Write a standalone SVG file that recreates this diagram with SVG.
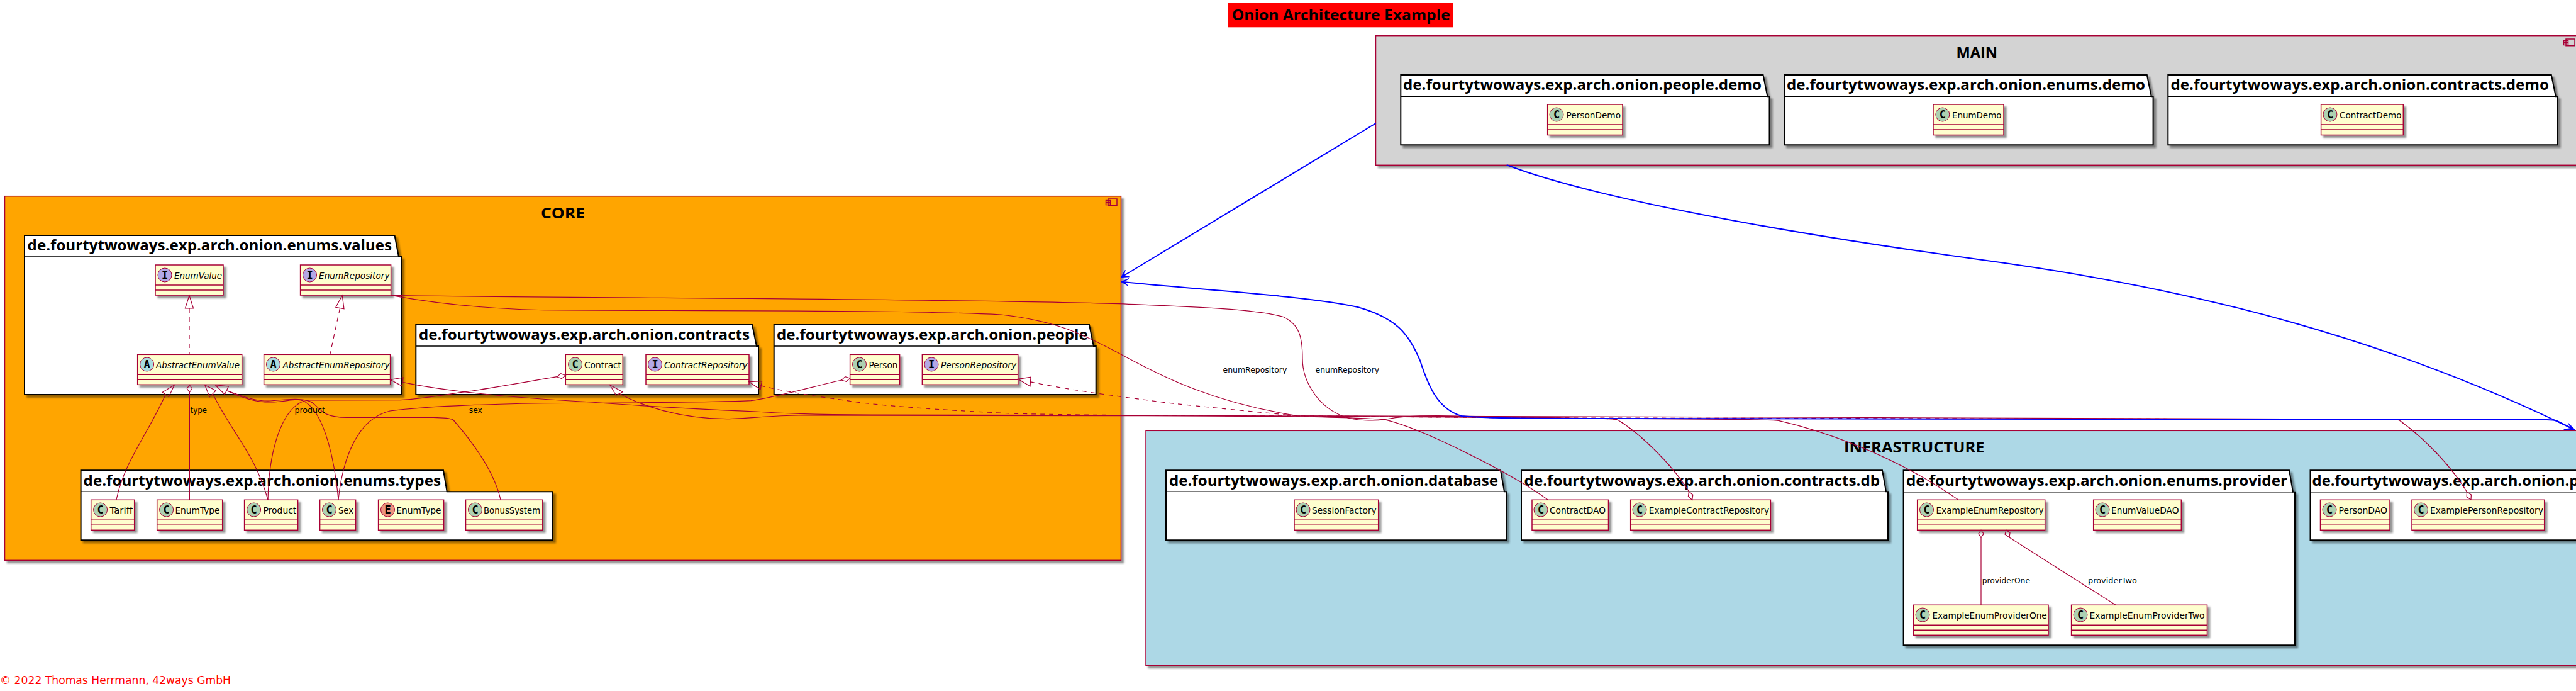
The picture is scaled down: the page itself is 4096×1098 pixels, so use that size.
<svg xmlns="http://www.w3.org/2000/svg" width="4096" height="1098" viewBox="0 0 4096 1098">
<style>
text{font-family:"DejaVu Sans","Open Sans",sans-serif;fill:#000}
.t{font-family:"Open Sans","DejaVu Sans",sans-serif;font-size:24px;font-weight:700}
.n{font-size:14px}
.i{font-size:14px;font-style:italic}
.l{font-size:13px}
.g{font-family:"DejaVu Sans Mono","Liberation Mono",monospace;font-size:17px;font-weight:700;text-anchor:middle}
.box{fill:#FEFECE;stroke:#A80036;stroke-width:1.5;filter:url(#sh)}
.div{fill:none;stroke:#A80036;stroke-width:1.5}
.pk{fill:#fff;stroke:#000;stroke-width:2;filter:url(#sh)}
.pl{fill:none;stroke:#000;stroke-width:1.5}
.cmp{stroke:#A80036;stroke-width:1.5;filter:url(#sh)}
.ic{fill:none;stroke:#A80036;stroke-width:1.5}
.ci{stroke:#A80036;stroke-width:1}
.C{fill:#ADD1B2}.A{fill:#A9DCDF}.I{fill:#B4A7E5}.E{fill:#EB937F}
.r{fill:none;stroke:#A80036;stroke-width:1.2}
.d{fill:none;stroke:#A80036;stroke-width:1.2;stroke-dasharray:7,7}
.h{fill:none;stroke:#A80036;stroke-width:1.2}
.b{fill:none;stroke:#0000FF;stroke-width:2}
.ba{fill:#0000FF;stroke:#0000FF;stroke-width:1}
</style>
<defs>
<filter id="sh" x="-5%" y="-10%" width="115%" height="130%"><feDropShadow dx="4" dy="4" stdDeviation="1.8" flood-color="#000" flood-opacity=".42"/></filter>
</defs>

<g id="title"><rect x="1952.5" y="5" width="357.5" height="38.3" fill="#FF0000"/><text class="t" x="1958.7" y="32.3" textLength="347" lengthAdjust="spacingAndGlyphs">Onion Architecture Example</text></g>
<g id="footer"><text x="0" y="1087" font-size="18" style="fill:#FF0000" textLength="367" lengthAdjust="spacingAndGlyphs">© 2022 Thomas Herrmann, 42ways GmbH</text></g>

<g id="CORE">
<rect class="cmp" x="7.5" y="311.7" width="1775" height="578.6" fill="#FFA500"/>
<path class="ic" d="M1762,316h14v10.7h-14zM1758.5,318.5h7v3h-7zM1758.5,322.5h7v3h-7z"/>
<text class="t" x="860" y="347" textLength="70" lengthAdjust="spacingAndGlyphs">CORE</text>
</g>
<g id="MAIN">
<rect class="cmp" x="2187.5" y="56.7" width="1925" height="205.6" fill="#D3D3D3"/>
<path class="ic" d="M4080,62h14v10.7h-14zM4076.5,64.5h7v3h-7zM4076.5,68.5h7v3h-7z"/>
<text class="t" x="3110.4" y="91.7" textLength="65.6" lengthAdjust="spacingAndGlyphs">MAIN</text>
</g>
<g id="INFRASTRUCTURE">
<rect class="cmp" x="1822" y="684.3" width="2320" height="373" fill="#ADD8E6"/>
<text class="t" x="2932" y="719" textLength="223.5" lengthAdjust="spacingAndGlyphs">INFRASTRUCTURE</text>
</g>

<g id="pkg-enums-values">
<path class="pk" d="M39,374H627.5L634,408H638V627H39Z"/><path class="pl" d="M39,408H634"/>
<text class="t" x="43.6" y="398" textLength="579.4" lengthAdjust="spacingAndGlyphs">de.fourtytwoways.exp.arch.onion.enums.values</text>
</g>
<g id="pkg-contracts">
<path class="pk" d="M661.3,516H1196L1203,550H1206V627H661.3Z"/><path class="pl" d="M661.3,550H1203"/>
<text class="t" x="666" y="540" textLength="526" lengthAdjust="spacingAndGlyphs">de.fourtytwoways.exp.arch.onion.contracts</text>
</g>
<g id="pkg-people">
<path class="pk" d="M1230.7,516H1732L1738.9,550H1742.7V627H1230.7Z"/><path class="pl" d="M1230.7,550H1738.9"/>
<text class="t" x="1235" y="540" textLength="494.7" lengthAdjust="spacingAndGlyphs">de.fourtytwoways.exp.arch.onion.people</text>
</g>
<g id="pkg-enums-types">
<path class="pk" d="M128.6,747.3H705L710.7,781.3H879V858.3H128.6Z"/><path class="pl" d="M128.6,781.3H710.7"/>
<text class="t" x="132.6" y="771.5" textLength="568.4" lengthAdjust="spacingAndGlyphs">de.fourtytwoways.exp.arch.onion.enums.types</text>
</g>
<g id="pkg-people-demo">
<path class="pk" d="M2227.3,119H2803.5L2810.4,153.3H2813.5V230.3H2227.3Z"/><path class="pl" d="M2227.3,153.3H2810.4"/>
<text class="t" x="2231" y="143.3" textLength="570" lengthAdjust="spacingAndGlyphs">de.fourtytwoways.exp.arch.onion.people.demo</text>
</g>
<g id="pkg-enums-demo">
<path class="pk" d="M2837,119H3413.8L3420.8,153.3H3423.6V230.3H2837Z"/><path class="pl" d="M2837,153.3H3420.8"/>
<text class="t" x="2841" y="143.3" textLength="570" lengthAdjust="spacingAndGlyphs">de.fourtytwoways.exp.arch.onion.enums.demo</text>
</g>
<g id="pkg-contracts-demo">
<path class="pk" d="M3447.3,119H4056.8L4063.8,153.3H4066.6V230.3H3447.3Z"/><path class="pl" d="M3447.3,153.3H4063.8"/>
<text class="t" x="3451.5" y="143.3" textLength="601.5" lengthAdjust="spacingAndGlyphs">de.fourtytwoways.exp.arch.onion.contracts.demo</text>
</g>
<g id="pkg-database">
<path class="pk" d="M1854,747.3H2386L2392,781.3H2395V858.3H1854Z"/><path class="pl" d="M1854,781.3H2392"/>
<text class="t" x="1859" y="771.5" textLength="523" lengthAdjust="spacingAndGlyphs">de.fourtytwoways.exp.arch.onion.database</text>
</g>
<g id="pkg-contracts-db">
<path class="pk" d="M2419,747.3H2993L2999,781.3H3002V858.3H2419Z"/><path class="pl" d="M2419,781.3H2999"/>
<text class="t" x="2423.6" y="771.5" textLength="565.4" lengthAdjust="spacingAndGlyphs">de.fourtytwoways.exp.arch.onion.contracts.db</text>
</g>
<g id="pkg-enums-provider">
<path class="pk" d="M3026.6,747.3H3640L3646,781.7H3649V1025.3H3026.6Z"/><path class="pl" d="M3026.6,781.7H3646"/>
<text class="t" x="3031" y="771.5" textLength="606" lengthAdjust="spacingAndGlyphs">de.fourtytwoways.exp.arch.onion.enums.provider</text>
</g>
<g id="pkg-people-db">
<path class="pk" d="M3673.5,747.3H4190V858.3H3673.5Z"/><path class="pl" d="M3673.5,781.7H4190"/>
<text class="t" x="3676.5" y="771.5" textLength="424" lengthAdjust="spacingAndGlyphs">de.fourtytwoways.exp.arch.onion.p</text>
</g>

<g id="EnumValue"><rect class="box" x="247" y="421" width="108" height="48"/><path class="div" d="M247,453H355M247,461H355"/><circle class="ci I" cx="262" cy="437" r="11"/><text class="g" x="262" y="443">I</text><text class="i" x="277" y="443" textLength="76" lengthAdjust="spacingAndGlyphs">EnumValue</text></g>
<g id="EnumRepository"><rect class="box" x="477.6" y="421" width="144" height="48"/><path class="div" d="M477.6,453H621.6M477.6,461H621.6"/><circle class="ci I" cx="492.5" cy="437" r="11"/><text class="g" x="492.5" y="443">I</text><text class="i" x="507" y="443" textLength="112.5" lengthAdjust="spacingAndGlyphs">EnumRepository</text></g>
<g id="AbstractEnumValue"><rect class="box" x="218.7" y="563.3" width="166" height="48"/><path class="div" d="M218.7,595.3H384.7M218.7,603.3H384.7"/><circle class="ci A" cx="233.6" cy="579" r="11"/><text class="g" x="233.6" y="585">A</text><text class="i" x="248" y="585" textLength="133" lengthAdjust="spacingAndGlyphs">AbstractEnumValue</text></g>
<g id="AbstractEnumRepository"><rect class="box" x="419.6" y="563.3" width="201" height="48"/><path class="div" d="M419.6,595.3H620.6M419.6,603.3H620.6"/><circle class="ci A" cx="434.5" cy="579" r="11"/><text class="g" x="434.5" y="585">A</text><text class="i" x="449.5" y="585" textLength="170" lengthAdjust="spacingAndGlyphs">AbstractEnumRepository</text></g>
<g id="Contract"><rect class="box" x="899.3" y="563.3" width="91" height="48"/><path class="div" d="M899.3,595.3H990.3M899.3,603.3H990.3"/><circle class="ci C" cx="914.6" cy="579" r="11"/><text class="g" x="914.6" y="585">C</text><text class="n" x="929" y="585" textLength="59" lengthAdjust="spacingAndGlyphs">Contract</text></g>
<g id="ContractRepository"><rect class="box" x="1027" y="563.3" width="164" height="48"/><path class="div" d="M1027,595.3H1191M1027,603.3H1191"/><circle class="ci I" cx="1041.5" cy="579" r="11"/><text class="g" x="1041.5" y="585">I</text><text class="i" x="1056" y="585" textLength="132.6" lengthAdjust="spacingAndGlyphs">ContractRepository</text></g>
<g id="Person"><rect class="box" x="1351.6" y="563.3" width="79" height="48"/><path class="div" d="M1351.6,595.3H1430.6M1351.6,603.3H1430.6"/><circle class="ci C" cx="1366.5" cy="579" r="11"/><text class="g" x="1366.5" y="585">C</text><text class="n" x="1381.5" y="585" textLength="46" lengthAdjust="spacingAndGlyphs">Person</text></g>
<g id="PersonRepository"><rect class="box" x="1466.4" y="563.3" width="152.3" height="48"/><path class="div" d="M1466.4,595.3H1618.7M1466.4,603.3H1618.7"/><circle class="ci I" cx="1481" cy="579" r="11"/><text class="g" x="1481" y="585">I</text><text class="i" x="1496" y="585" textLength="120" lengthAdjust="spacingAndGlyphs">PersonRepository</text></g>

<g id="Tariff"><rect class="box" x="144.7" y="794.3" width="69" height="48"/><path class="div" d="M144.7,826.3H213.7M144.7,834.3H213.7"/><circle class="ci C" cx="159.6" cy="810" r="11"/><text class="g" x="159.6" y="816">C</text><text class="n" x="174.5" y="816" textLength="36.5" lengthAdjust="spacingAndGlyphs">Tariff</text></g>
<g id="EnumType-class"><rect class="box" x="249.7" y="794.3" width="104" height="48"/><path class="div" d="M249.7,826.3H353.7M249.7,834.3H353.7"/><circle class="ci C" cx="264.6" cy="810" r="11"/><text class="g" x="264.6" y="816">C</text><text class="n" x="278.4" y="816" textLength="71.2" lengthAdjust="spacingAndGlyphs">EnumType</text></g>
<g id="Product"><rect class="box" x="388.6" y="794.3" width="85" height="48"/><path class="div" d="M388.6,826.3H473.6M388.6,834.3H473.6"/><circle class="ci C" cx="403.6" cy="810" r="11"/><text class="g" x="403.6" y="816">C</text><text class="n" x="418.5" y="816" textLength="52.8" lengthAdjust="spacingAndGlyphs">Product</text></g>
<g id="Sex"><rect class="box" x="508.6" y="794.3" width="57" height="48"/><path class="div" d="M508.6,826.3H565.6M508.6,834.3H565.6"/><circle class="ci C" cx="523.5" cy="810" r="11"/><text class="g" x="523.5" y="816">C</text><text class="n" x="538" y="816" textLength="24" lengthAdjust="spacingAndGlyphs">Sex</text></g>
<g id="EnumType-enum"><rect class="box" x="601.6" y="794.3" width="104" height="48"/><path class="div" d="M601.6,826.3H705.6M601.6,834.3H705.6"/><circle class="ci E" cx="616.5" cy="810" r="11"/><text class="g" x="616.5" y="816">E</text><text class="n" x="630.3" y="816" textLength="71.2" lengthAdjust="spacingAndGlyphs">EnumType</text></g>
<g id="BonusSystem"><rect class="box" x="740.5" y="794.3" width="122.3" height="48"/><path class="div" d="M740.5,826.3H862.8M740.5,834.3H862.8"/><circle class="ci C" cx="755.5" cy="810" r="11"/><text class="g" x="755.5" y="816">C</text><text class="n" x="769" y="816" textLength="90" lengthAdjust="spacingAndGlyphs">BonusSystem</text></g>

<g id="PersonDemo"><rect class="box" x="2460.7" y="166" width="119.3" height="48.5"/><path class="div" d="M2460.7,198H2580M2460.7,206H2580"/><circle class="ci C" cx="2475" cy="182" r="11"/><text class="g" x="2475" y="188">C</text><text class="n" x="2490.5" y="188" textLength="86.5" lengthAdjust="spacingAndGlyphs">PersonDemo</text></g>
<g id="EnumDemo"><rect class="box" x="3074" y="166" width="112" height="48.5"/><path class="div" d="M3074,198H3186M3074,206H3186"/><circle class="ci C" cx="3088.8" cy="182" r="11"/><text class="g" x="3088.8" y="188">C</text><text class="n" x="3104" y="188" textLength="78.4" lengthAdjust="spacingAndGlyphs">EnumDemo</text></g>
<g id="ContractDemo"><rect class="box" x="3690.6" y="166" width="130.7" height="48.5"/><path class="div" d="M3690.6,198H3821.3M3690.6,206H3821.3"/><circle class="ci C" cx="3705" cy="182" r="11"/><text class="g" x="3705" y="188">C</text><text class="n" x="3720" y="188" textLength="98.5" lengthAdjust="spacingAndGlyphs">ContractDemo</text></g>

<g id="SessionFactory"><rect class="box" x="2058" y="794.3" width="133.7" height="48"/><path class="div" d="M2058,826.3H2191.7M2058,834.3H2191.7"/><circle class="ci C" cx="2072" cy="810" r="11"/><text class="g" x="2072" y="816">C</text><text class="n" x="2086" y="816" textLength="102.7" lengthAdjust="spacingAndGlyphs">SessionFactory</text></g>
<g id="ContractDAO"><rect class="box" x="2436" y="794.3" width="121.5" height="48"/><path class="div" d="M2436,826.3H2557.5M2436,834.3H2557.5"/><circle class="ci C" cx="2450" cy="810" r="11"/><text class="g" x="2450" y="816">C</text><text class="n" x="2464" y="816" textLength="89" lengthAdjust="spacingAndGlyphs">ContractDAO</text></g>
<g id="ExampleContractRepository"><rect class="box" x="2592.7" y="794.3" width="222.7" height="48"/><path class="div" d="M2592.7,826.3H2815.4M2592.7,834.3H2815.4"/><circle class="ci C" cx="2607" cy="810" r="11"/><text class="g" x="2607" y="816">C</text><text class="n" x="2621.8" y="816" textLength="191.2" lengthAdjust="spacingAndGlyphs">ExampleContractRepository</text></g>
<g id="ExampleEnumRepository"><rect class="box" x="3048.7" y="794.3" width="203" height="48"/><path class="div" d="M3048.7,826.3H3251.7M3048.7,834.3H3251.7"/><circle class="ci C" cx="3063.5" cy="810" r="11"/><text class="g" x="3063.5" y="816">C</text><text class="n" x="3078.5" y="816" textLength="171" lengthAdjust="spacingAndGlyphs">ExampleEnumRepository</text></g>
<g id="EnumValueDAO"><rect class="box" x="3328.7" y="794.3" width="139.6" height="48"/><path class="div" d="M3328.7,826.3H3468.3M3328.7,834.3H3468.3"/><circle class="ci C" cx="3343" cy="810" r="11"/><text class="g" x="3343" y="816">C</text><text class="n" x="3357" y="816" textLength="107.5" lengthAdjust="spacingAndGlyphs">EnumValueDAO</text></g>
<g id="ExampleEnumProviderOne"><rect class="box" x="3042.6" y="961.3" width="214.4" height="48"/><path class="div" d="M3042.6,993.3H3257M3042.6,1001.3H3257"/><circle class="ci C" cx="3057" cy="977" r="11"/><text class="g" x="3057" y="983">C</text><text class="n" x="3072.4" y="983" textLength="182.3" lengthAdjust="spacingAndGlyphs">ExampleEnumProviderOne</text></g>
<g id="ExampleEnumProviderTwo"><rect class="box" x="3293.6" y="961.3" width="215.9" height="48"/><path class="div" d="M3293.6,993.3H3509.5M3293.6,1001.3H3509.5"/><circle class="ci C" cx="3308" cy="977" r="11"/><text class="g" x="3308" y="983">C</text><text class="n" x="3322.6" y="983" textLength="183" lengthAdjust="spacingAndGlyphs">ExampleEnumProviderTwo</text></g>
<g id="PersonDAO"><rect class="box" x="3689.5" y="794.3" width="110.5" height="48"/><path class="div" d="M3689.5,826.3H3800M3689.5,834.3H3800"/><circle class="ci C" cx="3704" cy="810" r="11"/><text class="g" x="3704" y="816">C</text><text class="n" x="3718.5" y="816" textLength="77.5" lengthAdjust="spacingAndGlyphs">PersonDAO</text></g>
<g id="ExamplePersonRepository"><rect class="box" x="3835" y="794.3" width="210.7" height="48"/><path class="div" d="M3835,826.3H4045.7M3835,834.3H4045.7"/><circle class="ci C" cx="3849.5" cy="810" r="11"/><text class="g" x="3849.5" y="816">C</text><text class="n" x="3864" y="816" textLength="180" lengthAdjust="spacingAndGlyphs">ExamplePersonRepository</text></g>

<g id="connectors">
<path class="d" d="M301,490V563"/>
<polygon class="h" points="301,469.5 294.5,490 307.5,490"/>
<path class="d" d="M540.5,490L524.7,563.3"/>
<polygon class="h" points="544.2,469.3 533.9,488.3 547,490.7"/>

<path class="r" d="M263.3,627C232,695 197,735 185,794"/>
<polygon class="h" points="277.3,611.7 258.3,623.3 268.3,630.7"/>
<path class="r" d="M301.4,623.3V794"/>
<polygon class="h" points="301.4,611.7 297.4,617.5 301.4,623.3 305.4,617.5"/>
<path class="r" d="M338.3,625.7C370,690 405,720 426,794"/>
<polygon class="h" points="325.7,611.7 343.3,620.7 333.3,630.7"/>
<path class="r" d="M360.5,620.7C385,632 405,639 430,639S470,632 482,637C510,650 530,710 538,794"/>
<path class="r" d="M361.7,620.7C390,632 410,638 430,637C460,634 485,632 497,640C510,650 512,663 551,663.3L689,663.3C705,663.5 715,664 720.5,667C745,695 785,745 796,794"/>
<polygon class="h" points="342.3,611.7 363.3,614 357.3,626.7"/>

<polygon class="h" points="899.3,596.6 891.8,593.6 885.5,598.7 893,601.6"/>
<path class="r" d="M885.5,598.7C830,608 780,617 746,621.7C700,628 660,635.7 631,635.7L490,636C455,640 428,700 426,794"/>
<polygon class="h" points="1351.6,601 1343.9,598.6 1338,604 1345.7,606.4"/>
<path class="r" d="M1338,604C1290,615 1230,632 1194,636.7C1150,639 1000,640 900,640.5C800,641 680,645 620,653C570,665 545,725 538,794"/>

<polygon class="h" points="620.5,603.3 641,600 639,613.3"/>
<path class="r" d="M640,607.3C720,624 850,634 941,639C1030,646 1110,650 1202,654C1260,658 1330,659 1385,659L1820,660L2063,661L2782,666.7C2800,667 2820,667.5 2828,668.3C2880,680 3000,715 3113.6,794"/>
<polygon class="h" points="969.7,611.7 990,622.7 979.7,628.3"/>
<path class="r" d="M984,625C1020,645 1080,665 1155.7,665.7C1190,665 1230,660 1270,660L1820,660.7L2047,661.7C2120,663 2170,664 2201,666.7C2260,680 2400,750 2461,794"/>

<polygon class="h" points="1191,606.7 1211.6,605.7 1209,619"/>
<path class="d" d="M1209,612.7C1260,625 1310,631 1347,636.7C1390,644 1500,652 1615,657.3C1700,659 1760,659.5 1820,660L2063,661L2545,665C2560,666 2567,665.5 2572,667C2610,690 2660,740 2685.5,781"/>
<polygon class="h" points="1618.7,602.3 1639,599.3 1638,613.7"/>
<path class="d" d="M1638,606.7C1700,620 1780,630 1856,640C1920,647 1990,654 2063,660.7L2500,664L3780,666C3800,666.5 3810,667 3815,667.7C3860,700 3900,745 3922.5,781.5"/>

<path class="r" d="M621.7,469.3C900,474 1500,474 1780,482.7C1880,487 1990,490 2040,503.3C2066,515 2071,535 2071,570C2071,605 2095,648 2140,663C2155,668 2185,669 2201,666.7C2225,662 2245,660.7 2285,660.7L2545,665C2560,666 2567,665.5 2572,667C2610,690 2660,740 2685.5,781"/>
<polygon class="h" points="2690.7,794.3 2691.8,786.2 2685.5,781 2684.4,789"/>
<path class="r" d="M621.7,469.3C720,487 820,493 900,493C1200,494 1450,493 1592,500C1680,510 1720,530 1780,561.7C1850,600 1930,640 2063,660.7L3780,666C3800,666.5 3810,667 3815,667.7C3860,700 3900,745 3922.5,781.5"/>
<polygon class="h" points="3929,794 3929.4,786 3922.5,781.5 3922.2,789.6"/>

<polygon class="h" points="3150,842.3 3145.8,848.2 3150,854 3154.2,848.2"/>
<path class="r" d="M3150,854V961.3"/>
<polygon class="h" points="3190,842.3 3188,849 3195,854 3196,846.5"/>
<path class="r" d="M3195,854L3364,961.3"/>

<path class="b" d="M2187.5,196L1787,438"/>
<polygon class="ba" points="1782.5,440.5 1789.2,429.4 1786.8,437.9 1795.5,439.8"/>
<path class="b" d="M1786,448C1900,460 2080,470 2159,488C2220,505 2240,530 2258,573C2270,610 2285,650 2324,661C2370,665 2450,665 2545,665L4050,667C4058,667 4062,667.5 4066,669L4090,681"/>
<polygon class="ba" points="1782.5,447.7 1795,442.7 1786.5,448 1794,454.3"/>
<path class="b" d="M2395.7,262C2520,310 2800,365 3152,413C3500,460 3800,540 4090,681"/>
<polygon class="ba" points="4095,683.5 4084,672.7 4088,680.5 4076.7,682.3"/>

<text class="l" x="302.5" y="656" textLength="26.5" lengthAdjust="spacingAndGlyphs">type</text>
<text class="l" x="468.4" y="656" textLength="48.6" lengthAdjust="spacingAndGlyphs">product</text>
<text class="l" x="745.7" y="656" textLength="21.3" lengthAdjust="spacingAndGlyphs">sex</text>
<text class="l" x="1944.5" y="591.7" textLength="101.8" lengthAdjust="spacingAndGlyphs">enumRepository</text>
<text class="l" x="2091.5" y="591.7" textLength="101.5" lengthAdjust="spacingAndGlyphs">enumRepository</text>
<text class="l" x="3151.7" y="927" textLength="76.3" lengthAdjust="spacingAndGlyphs">providerOne</text>
<text class="l" x="3320" y="927" textLength="78" lengthAdjust="spacingAndGlyphs">providerTwo</text>
</g>
</svg>
